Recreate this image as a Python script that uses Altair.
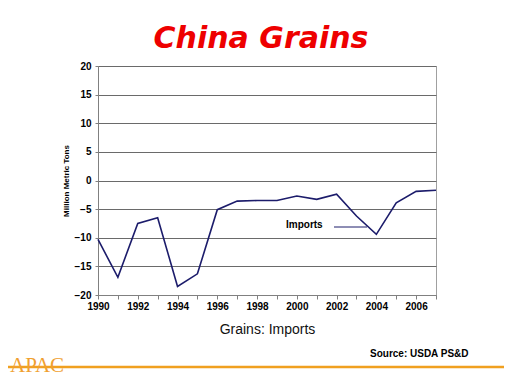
import altair as alt
import pandas as pd

years = list(range(1990, 2008))
imports = [-10.3, -16.9, -7.5, -6.5, -18.5, -16.3, -5.1, -3.6, -3.5, -3.5,
           -2.7, -3.3, -2.4, -6.2, -9.4, -3.9, -1.9, -1.7]
y_ticks = [-20, -15, -10, -5, 0, 5, 10, 15, 20]
series_label = ["Imports"]
chart_title = ["China Grains"]
source_text = ["Source: USDA PS&D"]
logo_text = ["APAC"]

df = pd.DataFrame({"year": years, "imports": imports})
FONT = "Liberation Sans"


def one(texts):
    return alt.Chart(pd.DataFrame({"t": texts}))


line = alt.Chart(df).mark_line(color="#1c1c6b", strokeWidth=1.6).encode(
    x=alt.X("year:Q",
            scale=alt.Scale(domain=[1990, 2007], nice=False, zero=False),
            axis=alt.Axis(values=years, format="d",
                          labelExpr="datum.value % 2 == 0 && datum.value < 2007 ? datum.label : ''",
                          labelOverlap=False, labelFlush=False,
                          grid=False, title="Grains: Imports",
                          labelFont=FONT, labelFontSize=10, labelFontWeight="bold",
                          labelColor="#000", tickColor="#808080", tickSize=4,
                          labelPadding=2, domainColor="#808080",
                          titleFont=FONT, titleFontSize=14, titleFontWeight="normal",
                          titleColor="#111", titlePadding=11)),
    y=alt.Y("imports:Q",
            scale=alt.Scale(domain=[-20, 20], nice=False),
            axis=alt.Axis(values=y_ticks, title="Million Metric Tons",
                          labelFont=FONT, labelFontSize=10, labelFontWeight="bold",
                          labelColor="#000", tickColor="#808080", tickSize=3,
                          labelPadding=4, domainColor="#808080",
                          gridColor="#6a6a6a", gridWidth=1,
                          titleFont=FONT, titleFontSize=8, titleFontWeight="bold",
                          titleColor="#000", titlePadding=4)),
)

label = one(series_label).mark_text(font=FONT, fontSize=10, fontWeight="bold",
                                    align="left", baseline="middle", color="#000").encode(
    text="t:N", x=alt.value(188), y=alt.value(159))
leader = one(series_label).mark_rule(color="#1c1c6b", strokeWidth=1).encode(
    x=alt.value(236), x2=alt.value(269), y=alt.value(161))

title = one(chart_title).mark_text(font="DejaVu Sans", fontSize=30, fontWeight="bold",
                                   fontStyle="italic", align="center", baseline="alphabetic",
                                   color="#ee0000").encode(
    text="t:N", x=alt.value(163), y=alt.value(-18))
source = one(source_text).mark_text(font=FONT, fontSize=10, fontWeight="bold",
                                    align="left", baseline="middle", color="#000").encode(
    text="t:N", x=alt.value(272), y=alt.value(288))
orange = one(logo_text).mark_rule(color="#f0a020", strokeWidth=2.5).encode(
    x=alt.value(-98), x2=alt.value(420), y=alt.value(301))
apac = one(logo_text).mark_text(font="Liberation Serif", fontSize=21,
                                align="left", baseline="alphabetic", color="#f0a030").encode(
    text="t:N", x=alt.value(-88), y=alt.value(306))

chart = alt.layer(line, leader, label, title, source, orange, apac).properties(
    width=338, height=229,
    autosize=alt.AutoSizeParams(type="none"),
    padding={"left": 90, "top": 58, "right": 68, "bottom": 81},
    background="white",
).configure_view(stroke="#a0a0a0", strokeWidth=1)

chart.save("out.html", embed_options={"renderer": "svg", "actions": False})
